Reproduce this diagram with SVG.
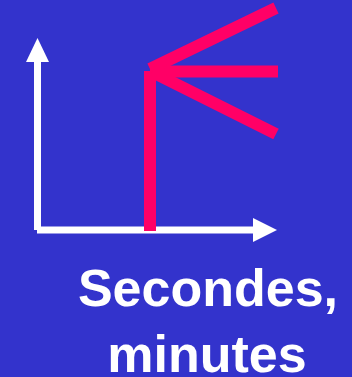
<svg xmlns="http://www.w3.org/2000/svg" width="352" height="377" viewBox="0 0 352 377">
<style>
.axis{stroke:#ffffff;stroke-width:7;fill:none}
.head{fill:#ffffff}
.pink{stroke:#ff0066;stroke-width:12;fill:none}
.lbl{font-family:"Liberation Sans",Arial,sans-serif;font-weight:bold;font-size:52px;fill:#ffffff;text-anchor:middle}
</style>
<rect width="352" height="377" fill="#3333cc"/>
<g id="axes">
<line class="axis" x1="37.5" y1="230" x2="37.5" y2="60"/>
<polygon class="head" points="37.5,38 49,62 26,62"/>
<line class="axis" x1="37" y1="230" x2="255" y2="230"/>
<polygon class="head" points="277,230 253,218 253,242"/>
</g>
<g id="connectors">
<line class="pink" x1="150" y1="231" x2="150" y2="71"/>
<line class="pink" x1="150" y1="71.5" x2="278" y2="71.5"/>
<line class="pink" x1="150" y1="69" x2="276" y2="8"/>
<line class="pink" x1="152" y1="72" x2="276" y2="134"/>
</g>
<g id="label">
<text class="lbl" x="208" y="306">Secondes,</text>
<text class="lbl" x="207" y="372">minutes</text>
</g>
</svg>
